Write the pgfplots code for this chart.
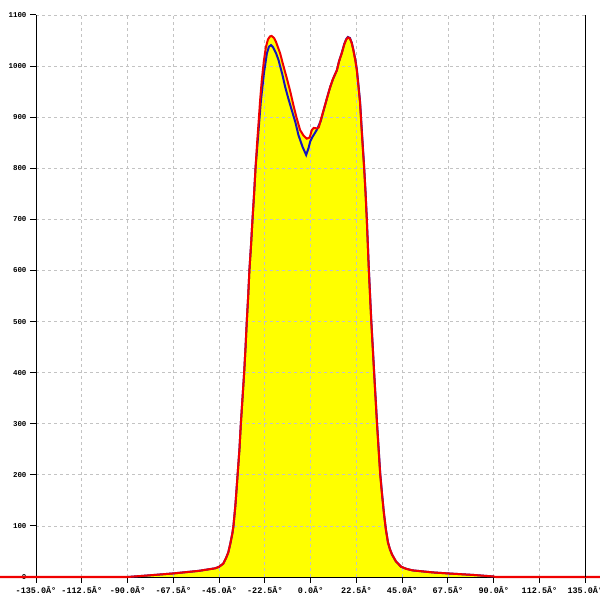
\documentclass[border=0pt]{standalone}
\usepackage{fontspec}
\setmainfont{Liberation Sans}
\newfontfamily\tickfont{Liberation Mono}
\usepackage{pgfplots}
\usepackage{pgfplotstable}
\pgfplotsset{compat=1.18}
\definecolor{gridgray}{RGB}{195,195,195}
\definecolor{cblue}{RGB}{20,20,190}
\definecolor{cred}{RGB}{240,0,0}
\definecolor{cyellow}{RGB}{255,255,0}
\pgfplotstableread{
x y
-170 0
-90 0
-80 3
-67.5 7
-55 12
-47 17
-45 20
-43 26
-41.5 38
-40.5 48
-39.5 65
-38.5 85
-38 98
-37 140
-36 195
-35 250
-34.3 301
-33.5 350
-32.7 399
-32 450
-31.4 500
-30.7 550
-30.1 601
-29.3 650
-28.6 699
-27.8 750
-27.1 800
-26.3 850
-25.5 895
-24.8 935
-24 973
-23 1010
-22 1037
-21 1052
-20 1058
-19.2 1059
-18 1055
-17 1047
-15 1025
-13.5 1002
-11.7 976
-10 950
-8.5 924
-7 900
-5.2 875
-3.5 864
-1.9 858
-0.5 860
0.6 875
1.5 879
3 878
4 880
5 895
7.1 924
8.5 944
9.6 959
11 975
12.9 992
14 1010
15.3 1025
16.5 1042
17.5 1052
18.3 1056
19.3 1054
20.2 1045
21 1031
22 1010
22.7 992
23.5 960
24.3 927
25 880
25.7 836
26.3 800
27 750
27.6 699
28.1 650
28.6 601
29.2 550
29.8 500
30.5 450
31.2 399
31.9 350
32.6 301
33.4 250
34.2 200
35 165
36 125
37 92
38 68
39 54
40 44
42 30
44.5 20
47 16
50 13
60 9
67.5 7
80 4
90 1
91 0
170 0
}\reddata
\pgfplotstableread{
x y
-90 0
-80 3
-67.5 7
-55 12
-47 17
-45 20
-43 26
-41.5 38
-40.5 48
-39.5 65
-38.5 85
-38 98
-37 140
-36 195
-35 250
-34.3 301
-33.5 350
-32.7 399
-32 450
-31.4 500
-30.7 550
-30.1 601
-29.3 650
-28.6 699
-27.8 750
-27.1 800
-26.3 840
-25.5 880
-24.5 930
-23 985
-21.5 1025
-20.5 1038
-19.5 1041
-18.5 1037
-17 1025
-15.8 1012
-14 985
-12.5 959
-11 937
-9.3 914
-7.5 890
-6 865
-4 842
-2.2 826
-1 840
-0.25 852
1 862
3 875
5 893
7.1 924
8.5 944
9.6 959
11 975
12.9 992
14 1010
15.3 1026
16.5 1043
17.5 1053
18.3 1057
19.3 1055
20.2 1046
21 1032
22 1012
22.7 994
23.5 963
24.3 930
25 884
25.7 840
26.3 803
27 753
27.6 702
28.1 653
28.6 604
29.2 553
29.8 503
30.5 453
31.2 402
31.9 353
32.6 304
33.4 253
34.2 203
35 167
36 126
37 93
38 68
39 54
40 44
42 30
44.5 20
47 16
50 13
60 9
67.5 7
80 4
90 1
}\bluedata
\begin{document}
\begin{tikzpicture}
\begin{axis}[
  scale only axis, width=549.3bp, height=562bp,
  xmin=-135, xmax=135, ymin=0, ymax=1100,
  clip=false, set layers=standard,
  axis x line*=bottom, axis y line*=left,
  axis line style={black, line width=1bp},
  xtick={-135,-112.5,-90,-67.5,-45,-22.5,0,22.5,45,67.5,90,112.5,135},
  xticklabels={-135.0Â°,-112.5Â°,-90.0Â°,-67.5Â°,-45.0Â°,-22.5Â°,0.0Â°,22.5Â°,45.0Â°,67.5Â°,90.0Â°,112.5Â°,135.0Â°},
  ytick={0,100,...,1100},
  grid=major,
  major grid style={gridgray, dash pattern=on 3bp off 3bp, line width=0.8bp},
  tick align=outside, major tick length=6bp,
  tick style={black, line width=1bp},
  xticklabel style={font=\tickfont\bfseries\fontsize{8.5}{9}\selectfont},
  yticklabel style={font=\tickfont\bfseries\fontsize{7.5}{8}\selectfont},
  /pgf/number format/assume math mode=true,
  /pgf/number format/1000 sep={},
]
\addplot[fill=cyellow, draw=none, on layer=axis background] table[x=x,y=y] {\reddata} \closedcycle;
\addplot[cblue, line width=2bp] table[x=x,y=y] {\bluedata};
\addplot[cred, line width=2bp] table[x=x,y=y] {\reddata};
\draw[black, line width=1bp] (rel axis cs:1,0) -- (rel axis cs:1,1);
\coordinate (bl) at (rel axis cs:0,0);
\coordinate (tr) at (rel axis cs:1,1);
\end{axis}
\pgfresetboundingbox
\path[use as bounding box] ([xshift=-36bp,yshift=-23bp]bl) rectangle ([xshift=14.7bp,yshift=15bp]tr);
\end{tikzpicture}
\end{document}
